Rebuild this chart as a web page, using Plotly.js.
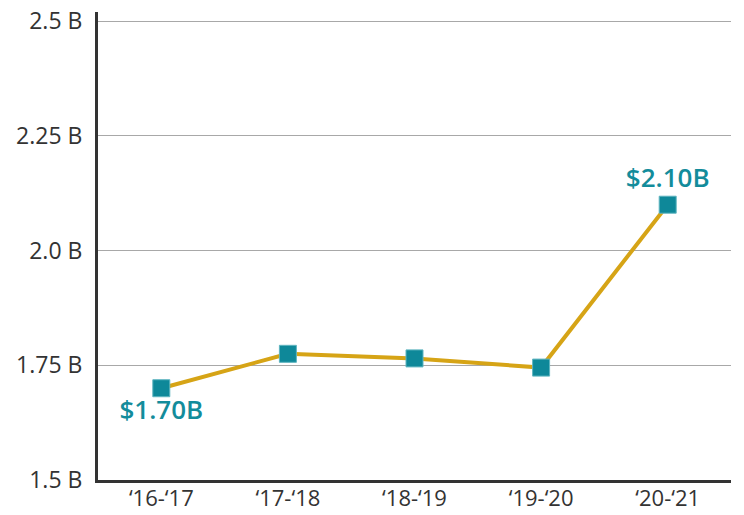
<!DOCTYPE html>
<html>
<head>
<meta charset="utf-8">
<script src="https://cdn.plot.ly/plotly-3.0.1.min.js"></script>
<style>html,body{margin:0;padding:0;background:#fff;}#chart{width:744px;height:515px;}</style>
</head>
<body>
<div id="chart"></div>
<script>
const years = ["\u201816-\u201817", "\u201817-\u201818", "\u201818-\u201819", "\u201819-\u201820", "\u201820-\u201821"];
const funding = [1.70, 1.775, 1.765, 1.745, 2.10];
const pointLabels = ["$1.70B", "", "", "", "$2.10B"];
const labelPositions = ["bottom center", "top center", "top center", "top center", "top center"];
const yTickVals = [1.5, 1.75, 2.0, 2.25, 2.5];
const yTickText = ["1.5 B", "1.75 B", "2.0 B", "2.25 B", "2.5 B"];

const trace = {
  x: years,
  y: funding,
  type: "scatter",
  mode: "lines+markers+text",
  text: pointLabels,
  textposition: labelPositions,
  textfont: {family: "Open Sans, Noto Sans, sans-serif", size: 26, color: "#138C9B", weight: 600},
  line: {color: "#D6A416", width: 4},
  marker: {symbol: "square", size: 17, color: "#0E8899", line: {color: "#5FB5C0", width: 1}},
  cliponaxis: false,
  hoverinfo: "x+y"
};

const layout = {
  width: 744,
  height: 515,
  margin: {l: 98, r: 13, t: 12, b: 35},
  paper_bgcolor: "#fff",
  plot_bgcolor: "#fff",
  showlegend: false,
  font: {family: "Open Sans, Noto Sans, sans-serif", color: "#333"},
  xaxis: {
    type: "category",
    range: [-0.5, 4.5],
    showgrid: false,
    showline: true,
    linecolor: "#333",
    linewidth: 3,
    ticks: "",
    ticklabelstandoff: -3,
    tickfont: {size: 22, color: "#333"},
    zeroline: false,
    fixedrange: true
  },
  yaxis: {
    range: [1.5, 2.52],
    tickvals: yTickVals,
    ticktext: yTickText,
    showgrid: true,
    gridcolor: "#A8A8A8",
    gridwidth: 1,
    showline: true,
    linecolor: "#333",
    linewidth: 3,
    ticks: "outside",
    ticklen: 8,
    tickcolor: "rgba(0,0,0,0)",
    tickfont: {size: 23, color: "#333"},
    zeroline: false,
    fixedrange: true
  }
};

Plotly.newPlot("chart", [trace], layout, {displayModeBar: false, staticPlot: true});
</script>
</body>
</html>
